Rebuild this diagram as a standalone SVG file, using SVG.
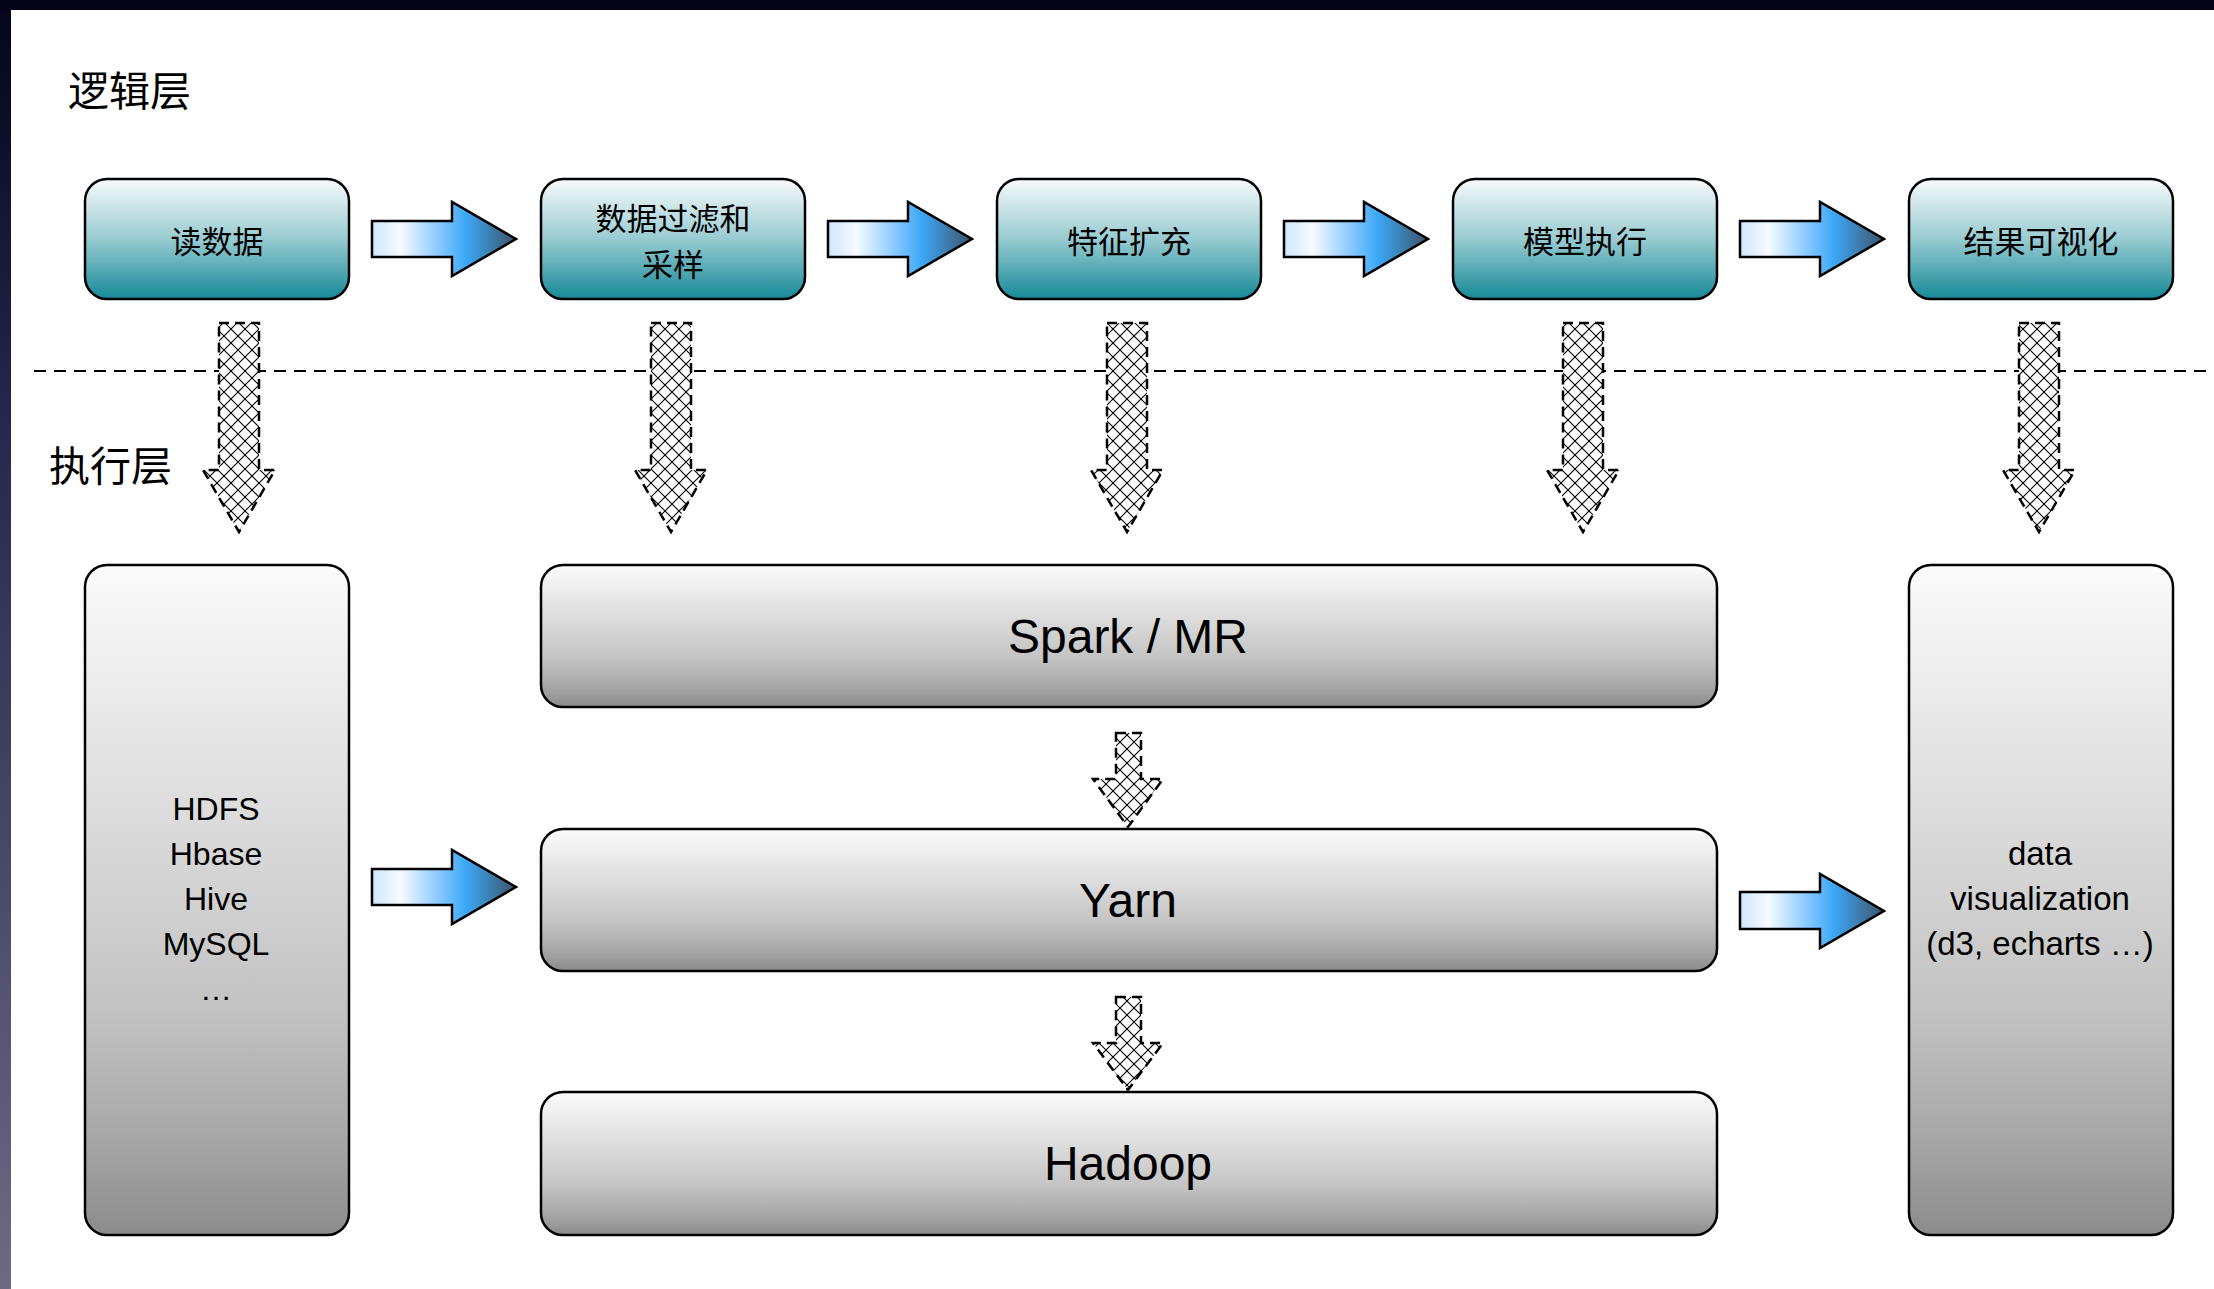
<svg xmlns="http://www.w3.org/2000/svg" width="2214" height="1289" viewBox="0 0 2214 1289">
  <defs>
    <style>
      .cn { font-family: "Noto Sans CJK SC", "Noto Sans", sans-serif; fill: #000; }
      .lat { font-family: "Liberation Sans", Arial, sans-serif; fill: #000; }
      .logic { fill: url(#teal); stroke: #000; stroke-width: 2.5; }
      .exec { fill: url(#gray); stroke: #000; stroke-width: 2.5; }
      .blue { fill: url(#blueg); stroke: #000; stroke-width: 2.5; }
      .check { fill: url(#hatch); stroke: #000; stroke-width: 2.5; stroke-dasharray: 10 6; }
      .divider { stroke: #000; stroke-width: 2; stroke-dasharray: 12 8; fill: none; }
    </style>
    <linearGradient id="teal" x1="0" y1="0" x2="0" y2="1">
      <stop offset="0" stop-color="#f8fbfc"/>
      <stop offset="0.5" stop-color="#98cbd1"/>
      <stop offset="1" stop-color="#168997"/>
    </linearGradient>
    <linearGradient id="gray" x1="0" y1="0" x2="0" y2="1">
      <stop offset="0" stop-color="#fbfbfb"/>
      <stop offset="0.35" stop-color="#dedede"/>
      <stop offset="0.66" stop-color="#c3c3c3"/>
      <stop offset="0.85" stop-color="#a8a8a8"/>
      <stop offset="1" stop-color="#8c8c8c"/>
    </linearGradient>
    <linearGradient id="blueg" x1="0" y1="0" x2="1" y2="0">
      <stop offset="0" stop-color="#cfe6ff"/>
      <stop offset="0.2" stop-color="#f6fbff"/>
      <stop offset="0.45" stop-color="#8fcbff"/>
      <stop offset="0.65" stop-color="#3ca8f7"/>
      <stop offset="1" stop-color="#3e5367"/>
    </linearGradient>
    <pattern id="hatch" patternUnits="userSpaceOnUse" width="14" height="14">
      <rect width="14" height="14" fill="#fff"/>
      <path d="M0,0 L14,14 M14,0 L0,14" stroke="#000" stroke-width="1.1" fill="none"/>
      <circle cx="7" cy="7" r="1.1" fill="#000"/>
    </pattern>
    <linearGradient id="leftStrip" x1="0" y1="0" x2="0" y2="1">
      <stop offset="0" stop-color="#04041a"/>
      <stop offset="0.3" stop-color="#25234a"/>
      <stop offset="1" stop-color="#6c6a84"/>
    </linearGradient>
  </defs>

  <!-- background -->
  <rect width="2214" height="1289" fill="#ffffff"/>
  <rect x="0" y="0" width="11" height="1289" fill="url(#leftStrip)"/>
  <rect x="0" y="0" width="2214" height="10" fill="#05051a"/>

  <!-- layer labels -->
  <text class="cn" x="68" y="88" font-size="41" dominant-baseline="central">逻辑层</text>
  <text class="cn" x="49" y="463" font-size="41" dominant-baseline="central">执行层</text>

  <!-- divider -->
  <line class="divider" x1="34" y1="371" x2="2214" y2="371"/>

  <!-- logic layer nodes -->
  <g id="node-read">
    <rect class="logic" x="85" y="179" width="264" height="120" rx="22"/>
    <text class="cn" x="217" y="239" font-size="31" text-anchor="middle" dominant-baseline="central">读数据</text>
  </g>
  <g id="node-filter">
    <rect class="logic" x="541" y="179" width="264" height="120" rx="22"/>
    <text class="cn" x="673" y="216" font-size="31" text-anchor="middle" dominant-baseline="central">数据过滤和</text>
    <text class="cn" x="673" y="262" font-size="31" text-anchor="middle" dominant-baseline="central">采样</text>
  </g>
  <g id="node-feature">
    <rect class="logic" x="997" y="179" width="264" height="120" rx="22"/>
    <text class="cn" x="1129" y="239" font-size="31" text-anchor="middle" dominant-baseline="central">特征扩充</text>
  </g>
  <g id="node-model">
    <rect class="logic" x="1453" y="179" width="264" height="120" rx="22"/>
    <text class="cn" x="1585" y="239" font-size="31" text-anchor="middle" dominant-baseline="central">模型执行</text>
  </g>
  <g id="node-visual">
    <rect class="logic" x="1909" y="179" width="264" height="120" rx="22"/>
    <text class="cn" x="2041" y="239" font-size="31" text-anchor="middle" dominant-baseline="central">结果可视化</text>
  </g>

  <!-- execution layer nodes -->
  <g id="node-storage">
    <rect class="exec" x="85" y="565" width="264" height="670" rx="22"/>
    <text class="lat" x="216" y="820" font-size="32" text-anchor="middle">HDFS</text>
    <text class="lat" x="216" y="865" font-size="32" text-anchor="middle">Hbase</text>
    <text class="lat" x="216" y="910" font-size="32" text-anchor="middle">Hive</text>
    <text class="lat" x="216" y="955" font-size="32" text-anchor="middle">MySQL</text>
    <text class="lat" x="216" y="1000" font-size="32" text-anchor="middle">…</text>
  </g>
  <g id="node-spark">
    <rect class="exec" x="541" y="565" width="1176" height="142" rx="22"/>
    <text class="lat" x="1128" y="653" font-size="48" text-anchor="middle">Spark / MR</text>
  </g>
  <g id="node-yarn">
    <rect class="exec" x="541" y="829" width="1176" height="142" rx="22"/>
    <text class="lat" x="1128" y="917" font-size="48" text-anchor="middle">Yarn</text>
  </g>
  <g id="node-hadoop">
    <rect class="exec" x="541" y="1092" width="1176" height="143" rx="22"/>
    <text class="lat" x="1128" y="1180" font-size="48" text-anchor="middle">Hadoop</text>
  </g>
  <g id="node-dataviz">
    <rect class="exec" x="1909" y="565" width="264" height="670" rx="22"/>
    <text class="lat" x="2040" y="865" font-size="33" text-anchor="middle">data</text>
    <text class="lat" x="2040" y="910" font-size="33" text-anchor="middle">visualization</text>
    <text class="lat" x="2040" y="955" font-size="33" text-anchor="middle">(d3, echarts …)</text>
  </g>

  <!-- connectors -->
  <g id="connectors">
    <path class="blue" d="M372,221 H452 V202 L516,239 L452,276 V257 H372 Z"/>
    <path class="blue" d="M828,221 H908 V202 L972,239 L908,276 V257 H828 Z"/>
    <path class="blue" d="M1284,221 H1364 V202 L1428,239 L1364,276 V257 H1284 Z"/>
    <path class="blue" d="M1740,221 H1820 V202 L1884,239 L1820,276 V257 H1740 Z"/>
    <path class="blue" d="M372,869 H452 V850 L516,887 L452,924 V905 H372 Z"/>
    <path class="blue" d="M1740,892 H1820 V874 L1884,911 L1820,948 V929 H1740 Z"/>
    <path class="check" d="M219,323 H259 V470 H275 L239,532 L203,470 H219 Z"/>
    <path class="check" d="M651,323 H691 V470 H707 L671,532 L635,470 H651 Z"/>
    <path class="check" d="M1107,323 H1147 V470 H1163 L1127,532 L1091,470 H1107 Z"/>
    <path class="check" d="M1563,323 H1603 V470 H1619 L1583,532 L1547,470 H1563 Z"/>
    <path class="check" d="M2019,323 H2059 V470 H2075 L2039,532 L2003,470 H2019 Z"/>
    <path class="check" d="M1116,733 H1141 V779 H1163 L1128,827 L1093,779 H1116 Z"/>
    <path class="check" d="M1116,997 H1141 V1043 H1163 L1128,1090 L1093,1043 H1116 Z"/>
  </g>
</svg>
